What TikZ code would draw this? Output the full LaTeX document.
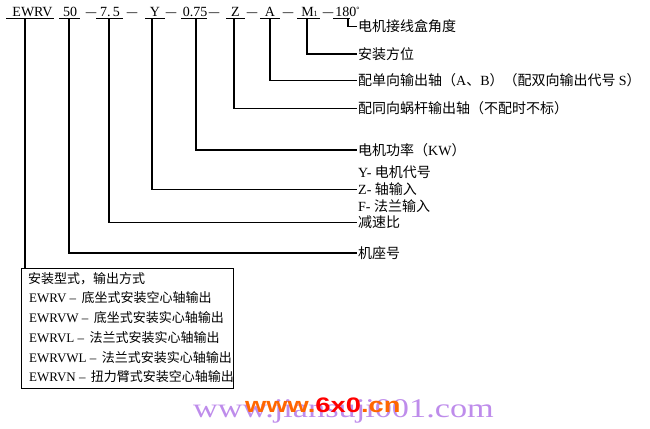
\documentclass[tikz,border=0pt]{standalone}
\usepackage{fontspec}
\setmainfont{Liberation Serif}
\newfontfamily\cjk{Noto Sans CJK SC}
\newfontfamily\wmsans{Liberation Sans}
\definecolor{wmpurple}{RGB}{190,140,235}
\definecolor{wmorange}{RGB}{255,102,0}
\definecolor{wmred}{RGB}{255,0,0}
\begin{document}
\begin{tikzpicture}[x=1pt,y=-1pt,
  top/.style={anchor=base,inner sep=0pt,font=\fontsize{14}{14}\selectfont},
  dashtxt/.style={anchor=base,inner sep=0pt,font=\fontsize{14}{14}\selectfont},
  lab/.style={anchor=west,inner sep=1pt,font=\fontsize{14}{14}\selectfont\cjk},
  boxtxt/.style={anchor=west,inner sep=0pt,font=\fontsize{13}{13}\selectfont},
  conn/.style={line width=1.2pt,black},
  ul/.style={line width=1.4pt,black}]
\useasboundingbox (0,0) rectangle (650,428);

% watermark
\node[anchor=base west,inner sep=0pt,text=wmpurple,font=\fontsize{27}{27}\selectfont] (wm1) at (193,417)
  {\scalebox{1.27}[1]{www.jiansuji001.com}};
\node[anchor=base west,inner sep=0pt,font=\fontsize{21}{21}\selectfont\wmsans\bfseries] (wm2) at (245,412)
  {\scalebox{1.3}[1]{\textcolor{wmorange}{www.}\textcolor{wmred}{6x0}\textcolor{wmorange}{.cn}}};

% top row
\node[top] (tE) at (32.5,16.5) {EWRV};
\node[top] (t50) at (70,16.5) {50};
\node[top] (t75) at (110,16.5) {7.\,5};
\node[top] (tY) at (155,16.5) {Y};
\node[top] (tP) at (195,16.5) {0.75};
\node[top] (tZ) at (235.5,16.5) {Z};
\node[top] (tA) at (270,16.5) {A};
\node[top] (tM) at (309.5,16.5) {M\raisebox{-0.5pt}{\fontsize{8}{8}\selectfont 1}};
\node[top] (t180) at (347.5,16.5) {180\raisebox{4pt}{\fontsize{8}{8}\selectfont\textdegree}};

\foreach \n/\x in {d1/91,d2/132,d3/171,d4/214,d5/252,d6/288,d7/328}
  \node[dashtxt] (\n) at (\x,16.5) {\scalebox{0.75}[1]{—}};

% underlines
\foreach \a/\b in {6/54,59/80,96/123,145/165,181/207,226/245,260/280,297/320,333/350}
  \draw[ul] (\a,18.5) -- (\b,18.5);

% connection points
\coordinate (uE) at (25,18.5);
\coordinate (u50) at (69,18.5);
\coordinate (u75) at (109,18.5);
\coordinate (uY) at (152,18.5);
\coordinate (uP) at (196,18.5);
\coordinate (uZ) at (234,18.5);
\coordinate (uA) at (270,18.5);
\coordinate (uM) at (307,18.5);
\coordinate (u180) at (348,18.5);

% labels
\node[lab] (l180) at (357,26.5) {电机接线盒角度};
\node[lab] (lM) at (357,54) {安装方位};
\node[lab] (lA) at (357,80.5) {配单向输出轴（{\rmfamily A}、{\rmfamily B}）（配双向输出代号 {\rmfamily S}）};
\node[lab] (lZ) at (357,108.5) {配同向蜗杆输出轴（不配时不标）};
\node[lab] (lP) at (357,150) {电机功率（{\rmfamily KW}）};
\node[lab] (lY1) at (357,172.5) {{\rmfamily Y- }电机代号};
\node[lab] (lY) at (357,189.5) {{\rmfamily Z- }轴输入};
\node[lab] (lY3) at (357,206.5) {{\rmfamily F- }法兰输入};
\node[lab] (l75) at (357,222.5) {减速比};
\node[lab] (l50) at (357,253) {机座号};

% connectors
\draw[conn] (u180) |- (l180.west);
\draw[conn] (uM) |- (lM.west);
\draw[conn] (uA) |- (lA.west);
\draw[conn] (uZ) |- (lZ.west);
\draw[conn] (uP) |- (lP.west);
\draw[conn] (uY) |- (lY.west);
\draw[conn] (u75) |- (l75.west);
\draw[conn] (u50) |- (l50.west);

% box
\node[draw,line width=1.2pt,anchor=north west,minimum width=212pt,minimum height=120pt,inner sep=0pt] (box) at (21,268) {};
\draw[conn] (uE) -- (uE |- box.north);

\node[boxtxt] (b0) at (28,279) {\cjk 安装型式，输出方式};
\node[boxtxt] (b1) at (29,297.5) {EWRV – \,{\cjk 底坐式安装空心轴输出}};
\node[boxtxt] (b2) at (29,317.5) {EWRVW – \,{\cjk 底坐式安装实心轴输出}};
\node[boxtxt] (b3) at (29,338) {EWRVL – \,{\cjk 法兰式安装实心轴输出}};
\node[boxtxt] (b4) at (29,358) {EWRVWL – \,{\cjk 法兰式安装实心轴输出}};
\node[boxtxt] (b5) at (29,377) {EWRVN – \,{\cjk 扭力臂式安装空心轴输出}};
\end{tikzpicture}
\end{document}
